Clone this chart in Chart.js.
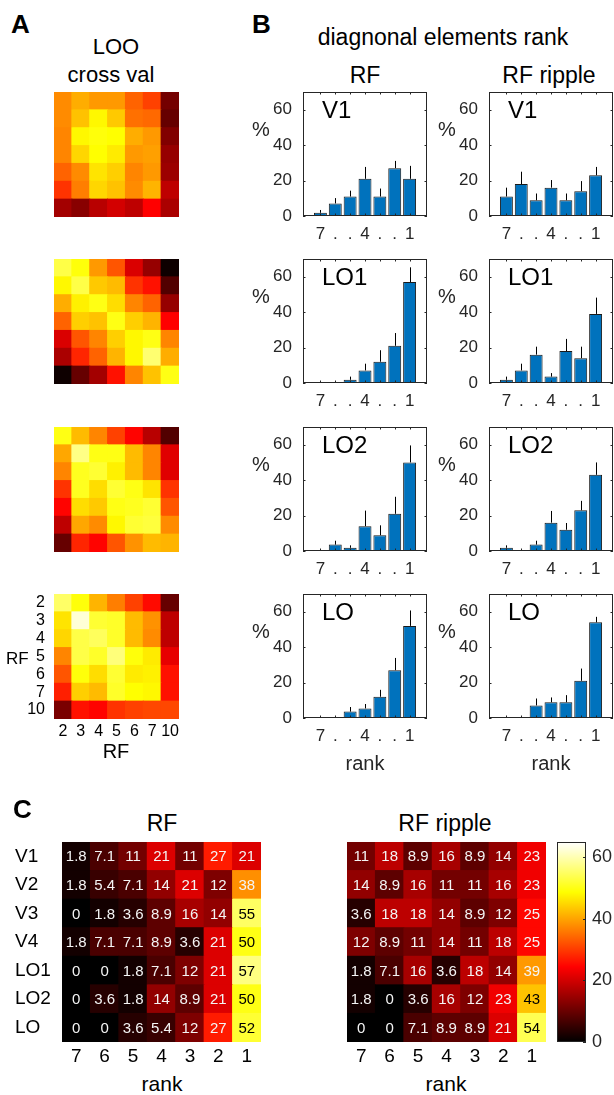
<!DOCTYPE html>
<html>
<head>
<meta charset="utf-8">
<script src="https://cdn.jsdelivr.net/npm/chart.js@4.4.0/dist/chart.umd.min.js"></script>
<style>
    html, body { margin: 0; padding: 0; background: #fff; overflow: hidden; }
    body { position: relative; width: 614px; height: 1095px; font-family: "Liberation Sans", Arial, sans-serif; color: #000; }
    .txt { position: absolute; white-space: nowrap; line-height: 1; }
</style>
</head>
<body>
<script>
(function() {
    'use strict';

    // ---- dados ----
    var rankLabels = ['7', '6', '5', '4', '3', '2', '1'];
    var rankTicks = ['7', '.', '.', '4', '.', '.', '1'];
    var areaLabels = ['V1', 'V2', 'V3', 'V4', 'LO1', 'LO2', 'LO'];
    var rfSizes = ['2', '3', '4', '5', '6', '7', '10'];
    var barTicksY = [0, 20, 40, 60];
    var colorbarTicks = [0, 20, 40, 60];
    var cMax = 65;

    // % por area (linhas) e rank 7..1 (colunas)
    var rfPct = [
        [1.8, 7.1, 11, 21, 11, 27, 21],
        [1.8, 5.4, 7.1, 14, 21, 12, 38],
        [0, 1.8, 3.6, 8.9, 16, 14, 55],
        [1.8, 7.1, 7.1, 8.9, 3.6, 21, 50],
        [0, 0, 1.8, 7.1, 12, 21, 57],
        [0, 3.6, 1.8, 14, 8.9, 21, 50],
        [0, 0, 3.6, 5.4, 12, 27, 52]
    ];
    var ripplePct = [
        [11, 18, 8.9, 16, 8.9, 14, 23],
        [14, 8.9, 16, 11, 11, 16, 23],
        [3.6, 18, 18, 14, 8.9, 12, 25],
        [12, 8.9, 11, 14, 11, 18, 25],
        [1.8, 7.1, 16, 3.6, 18, 14, 39],
        [1.8, 0, 3.6, 16, 12, 23, 43],
        [0, 0, 7.1, 8.9, 8.9, 21, 54]
    ];

    // painel B: areas mostradas (indices em areaLabels) e barras de erro (lado superior)
    var barAreas = [0, 4, 5, 6];
    var rfErr = [
        [1.6, 3.0, 3.3, 6.7, 4.5, 4.1, 7.3],
        [0, 0, 1.8, 3.8, 6.5, 7.2, 8.3],
        [0, 2.2, 1.4, 8.8, 5.6, 9.6, 9.6],
        [0, 0, 2.6, 2.5, 3.9, 6.9, 8.7]
    ];
    var rippleErr = [
        [5.0, 7.0, 3.8, 4.3, 3.8, 5.7, 4.7],
        [1.8, 3.8, 4.5, 2.0, 6.9, 6.5, 9.2],
        [1.4, 0, 2.2, 6.6, 3.8, 5.3, 7.0],
        [0, 0, 3.9, 2.7, 4.0, 6.9, 3.1]
    ];

    // painel A: matrizes LOO (normalizadas 0..1 no mapa 'hot')
    var loo1 = [
        [0.58, 0.63, 0.60, 0.60, 0.52, 0.47, 0.17],
        [0.58, 0.66, 0.74, 0.67, 0.54, 0.53, 0.15],
        [0.57, 0.74, 0.76, 0.75, 0.63, 0.60, 0.19],
        [0.57, 0.69, 0.75, 0.72, 0.60, 0.61, 0.22],
        [0.52, 0.58, 0.71, 0.68, 0.57, 0.60, 0.23],
        [0.45, 0.56, 0.69, 0.66, 0.58, 0.64, 0.28],
        [0.24, 0.20, 0.27, 0.31, 0.28, 0.375, 0.25]
    ];
    var loo2 = [
        [0.82, 0.76, 0.60, 0.50, 0.32, 0.22, 0.02],
        [0.74, 0.82, 0.67, 0.65, 0.45, 0.40, 0.12],
        [0.63, 0.73, 0.77, 0.70, 0.57, 0.52, 0.22],
        [0.52, 0.68, 0.66, 0.77, 0.68, 0.64, 0.375],
        [0.32, 0.50, 0.57, 0.68, 0.74, 0.77, 0.57],
        [0.25, 0.43, 0.52, 0.64, 0.74, 0.86, 0.63],
        [0.02, 0.15, 0.24, 0.40, 0.57, 0.66, 0.77]
    ];
    var loo3 = [
        [0.77, 0.65, 0.57, 0.47, 0.38, 0.27, 0.12],
        [0.62, 0.88, 0.77, 0.77, 0.65, 0.57, 0.33],
        [0.57, 0.78, 0.80, 0.73, 0.65, 0.57, 0.33],
        [0.45, 0.78, 0.70, 0.80, 0.77, 0.71, 0.45],
        [0.38, 0.70, 0.67, 0.77, 0.78, 0.80, 0.50],
        [0.28, 0.62, 0.58, 0.74, 0.80, 0.81, 0.58],
        [0.15, 0.43, 0.38, 0.50, 0.59, 0.65, 0.64]
    ];
    var loo4 = [
        [0.85, 0.76, 0.64, 0.56, 0.47, 0.39, 0.15],
        [0.71, 0.96, 0.80, 0.79, 0.65, 0.59, 0.28],
        [0.69, 0.82, 0.84, 0.79, 0.65, 0.58, 0.28],
        [0.57, 0.82, 0.79, 0.87, 0.76, 0.72, 0.34],
        [0.50, 0.76, 0.70, 0.80, 0.72, 0.73, 0.40],
        [0.42, 0.68, 0.65, 0.79, 0.75, 0.74, 0.40],
        [0.18, 0.40, 0.38, 0.45, 0.47, 0.48, 0.48]
    ];

    var FONT = '"Liberation Sans", Arial, sans-serif';
    Chart.defaults.font.family = FONT;
    Chart.defaults.color = '#262626';

    /**
     * Mapa de cores 'hot' (preto -> vermelho -> amarelo -> branco)
     */
    function hot(t) {
        t = Math.max(0, Math.min(1, t));
        var r = Math.min(1, t / 0.375);
        var g = Math.max(0, Math.min(1, (t - 0.375) / 0.375));
        var b = Math.max(0, (t - 0.75) / 0.25);
        return 'rgb(' + Math.round(r * 255) + ',' + Math.round(g * 255) + ',' + Math.round(b * 255) + ')';
    }

    function addText(str, x, baseline, size, opts) {
        opts = opts || {};
        var d = document.createElement('div');
        d.className = 'txt';
        d.textContent = str;
        d.style.fontSize = size + 'px';
        d.style.top = (baseline - 0.8465 * size) + 'px';
        d.style.left = x + 'px';
        if (opts.bold) d.style.fontWeight = 'bold';
        if (opts.center) d.style.transform = 'translateX(-50%)';
        if (opts.color) d.style.color = opts.color;
        document.body.appendChild(d);
    }

    function placeCanvas(left, top, width, height) {
        var c = document.createElement('canvas');
        c.width = width;
        c.height = height;
        c.style.position = 'absolute';
        c.style.left = left + 'px';
        c.style.top = top + 'px';
        c.style.width = width + 'px';
        c.style.height = height + 'px';
        document.body.appendChild(c);
        return c;
    }

    // tamanho fixo do eixo, sem o padding extra dos rotulos das pontas
    function fixSize(prop, size) {
        return function(s) {
            s[prop] = size;
            s.paddingTop = 0;
            s.paddingBottom = 0;
            s.paddingLeft = 0;
            s.paddingRight = 0;
        };
    }

    // caixa dos eixos com ticks para dentro (estilo MATLAB)
    Chart.register({
        id: 'axesBox',
        afterDatasetsDraw: function(chart, args, opts) {
            if (!opts.on) return;
            var a = chart.chartArea;
            var ctx = chart.ctx;
            var len = opts.len || 2.5;
            ctx.save();
            ctx.strokeStyle = '#262626';
            ctx.lineWidth = 1;
            ctx.beginPath();
            if (opts.xTicks) {
                chart.scales.x.ticks.forEach(function(t) {
                    var px = Math.round(chart.scales.x.getPixelForValue(t.value)) + 0.5;
                    ctx.moveTo(px, a.bottom); ctx.lineTo(px, a.bottom - len);
                    ctx.moveTo(px, a.top); ctx.lineTo(px, a.top + len);
                });
            }
            chart.scales.y.ticks.forEach(function(t) {
                var py = Math.round(chart.scales.y.getPixelForValue(t.value)) + 0.5;
                if (opts.yLeft) { ctx.moveTo(a.left, py); ctx.lineTo(a.left + len, py); }
                if (opts.yRight) { ctx.moveTo(a.right, py); ctx.lineTo(a.right - len, py); }
            });
            ctx.stroke();
            ctx.strokeRect(Math.round(a.left) + 0.5, Math.round(a.top) + 0.5,
                Math.round(a.right - a.left) - 1, Math.round(a.bottom - a.top) - 1);
            ctx.restore();
        }
    });

    // barras de erro (somente para cima)
    Chart.register({
        id: 'errBars',
        afterDatasetsDraw: function(chart) {
            var ctx = chart.ctx;
            var yScale = chart.scales.y;
            chart.data.datasets.forEach(function(ds, i) {
                if (!ds.errUp) return;
                var meta = chart.getDatasetMeta(i);
                ctx.save();
                ctx.strokeStyle = '#000';
                ctx.lineWidth = 1;
                ctx.beginPath();
                meta.data.forEach(function(el, j) {
                    var e = ds.errUp[j];
                    if (!e) return;
                    var v = ds.data[j].y;
                    var px = Math.round(el.x) + 0.5;
                    ctx.moveTo(px, yScale.getPixelForValue(v));
                    ctx.lineTo(px, yScale.getPixelForValue(v + e));
                });
                ctx.stroke();
                ctx.restore();
            });
        }
    });

    // valores dentro das celulas
    Chart.register({
        id: 'cellText',
        afterDatasetsDraw: function(chart, args, opts) {
            if (!opts.on) return;
            var ctx = chart.ctx;
            ctx.save();
            ctx.font = (opts.size || 15) + 'px ' + FONT;
            ctx.textAlign = 'center';
            ctx.textBaseline = 'middle';
            chart.data.datasets.forEach(function(ds, i) {
                var meta = chart.getDatasetMeta(i);
                meta.data.forEach(function(el, j) {
                    var v = ds.cellValues[j];
                    ctx.fillStyle = v >= 40 ? '#000' : '#f4f4f4';
                    ctx.fillText(String(v), el.x, (el.y + el.base) / 2 + 1);
                });
            });
            ctx.restore();
        }
    });

    /**
     * Mapa de calor 7x7 como barras empilhadas
     */
    function drawHeatmap(o) {
        var padL = o.yLabels ? o.axisW : 0;
        var padB = o.xLabels ? o.axisH : 0;
        var padT = o.padTop || 0;
        var padR = o.padRight || 0;
        var canvas = placeCanvas(o.left - padL, o.top - padT, padL + o.w + padR, padT + o.h + padB);
        var sets = [];
        for (var r = o.matrix.length - 1; r >= 0; r--) {
            sets.push({
                data: o.matrix[r].map(function() { return 1; }),
                backgroundColor: o.matrix[r].map(o.colorFn),
                cellValues: o.matrix[r],
                borderWidth: 0,
                barPercentage: 1,
                categoryPercentage: 1,
                inflateAmount: 0.5
            });
        }
        var yLabels = o.yLabels;
        new Chart(canvas, {
            type: 'bar',
            data: { labels: o.xLabels || rfSizes, datasets: sets },
            options: {
                responsive: false,
                animation: false,
                layout: { padding: { top: padT, right: padR, left: 0, bottom: 0 } },
                plugins: {
                    legend: { display: false },
                    tooltip: { enabled: false },
                    cellText: { on: !!o.showText, size: 15 }
                },
                scales: {
                    x: {
                        stacked: true,
                        display: !!o.xLabels,
                        grid: { display: false, drawTicks: false },
                        border: { display: false },
                        ticks: { font: { size: o.xFont }, padding: o.xPad, maxRotation: 0, autoSkip: false, color: '#000' },
                        afterFit: fixSize('height', padB)
                    },
                    y: {
                        stacked: true,
                        min: 0,
                        max: 7,
                        display: !!yLabels,
                        grid: { display: false, drawTicks: false },
                        border: { display: false },
                        afterBuildTicks: function(s) {
                            s.ticks = [0.5, 1.5, 2.5, 3.5, 4.5, 5.5, 6.5].map(function(v) { return { value: v }; });
                        },
                        ticks: {
                            font: { size: o.yFont },
                            padding: o.yPad,
                            crossAlign: o.yAlign || 'near',
                            autoSkip: false,
                            color: '#000',
                            callback: function(v) { return yLabels ? yLabels[6 - Math.floor(v)] : ''; }
                        },
                        afterFit: fixSize('width', padL)
                    }
                }
            }
        });
    }

    /**
     * Grafico de barras com erro (painel B)
     */
    function drawBars(left, top, vals, errs) {
        var canvas = placeCanvas(left - 50, top - 10, 175, 164);
        new Chart(canvas, {
            type: 'bar',
            data: {
                datasets: [{
                    data: vals.map(function(v, i) { return { x: i + 1, y: v }; }),
                    errUp: errs,
                    backgroundColor: '#0072BD',
                    borderColor: '#1a1a1a',
                    borderWidth: 1,
                    borderSkipped: false,
                    barPercentage: 0.87,
                    categoryPercentage: 1,
                    inflateAmount: 0
                }]
            },
            options: {
                responsive: false,
                animation: false,
                layout: { padding: { top: 10, right: 1, left: 0, bottom: 0 } },
                plugins: {
                    legend: { display: false },
                    tooltip: { enabled: false },
                    axesBox: { on: true, xTicks: true, yLeft: true, yRight: true }
                },
                scales: {
                    x: {
                        type: 'linear',
                        min: -0.17,
                        max: 8.17,
                        offset: false,
                        grid: { display: false, drawTicks: false, offset: false },
                        border: { display: false },
                        afterBuildTicks: function(s) {
                            s.ticks = rankTicks.map(function(t, i) { return { value: i + 1 }; });
                        },
                        ticks: {
                            font: { size: 17 },
                            padding: 8,
                            maxRotation: 0,
                            autoSkip: false,
                            callback: function(v) { return rankTicks[v - 1]; }
                        },
                        afterFit: fixSize('height', 30)
                    },
                    y: {
                        min: 0,
                        max: 70,
                        grid: { display: false, drawTicks: false },
                        border: { display: false },
                        afterBuildTicks: function(s) {
                            s.ticks = barTicksY.map(function(v) { return { value: v }; });
                        },
                        ticks: { font: { size: 17 }, padding: 11 },
                        afterFit: fixSize('width', 50)
                    }
                }
            }
        });
    }

    function drawColorbar(left, top, w, h) {
        var canvas = placeCanvas(left - 2, top - 10, 2 + w + 28, 10 + h + 10);
        new Chart(canvas, {
            type: 'bar',
            data: {
                labels: ['cb'],
                datasets: [{
                    data: [cMax],
                    borderWidth: 0,
                    barPercentage: 1,
                    categoryPercentage: 1,
                    backgroundColor: function(c) {
                        var a = c.chart.chartArea;
                        if (!a) return '#000';
                        var g = c.chart.ctx.createLinearGradient(0, a.bottom, 0, a.top);
                        [0, 0.375, 0.75, 1].forEach(function(s) { g.addColorStop(s, hot(s)); });
                        return g;
                    }
                }]
            },
            options: {
                responsive: false,
                animation: false,
                layout: { padding: { top: 10, right: 0, left: 2, bottom: 10 } },
                plugins: {
                    legend: { display: false },
                    tooltip: { enabled: false },
                    axesBox: { on: true, xTicks: false, yLeft: false, yRight: true, len: 3 }
                },
                scales: {
                    x: { display: false },
                    y: {
                        position: 'right',
                        min: 0,
                        max: cMax,
                        grid: { display: false, drawTicks: false },
                        border: { display: false },
                        afterBuildTicks: function(s) {
                            s.ticks = colorbarTicks.map(function(v) { return { value: v }; });
                        },
                        ticks: { font: { size: 18 }, padding: 6 },
                        afterFit: fixSize('width', 28)
                    }
                }
            }
        });
    }

    // ---- painel A ----
    addText('A', 11, 33, 26, { bold: true });
    addText('LOO', 116, 55, 22, { center: true });
    addText('cross val', 111, 83, 22, { center: true });
    var looMats = [loo1, loo2, loo3, loo4];
    var rowTops = [92, 259, 427, 594];
    looMats.forEach(function(m, k) {
        var last = k === looMats.length - 1;
        drawHeatmap({
            left: 54, top: rowTops[k], w: 125, h: 125,
            matrix: m, colorFn: hot,
            xLabels: last ? rfSizes : null, axisH: 26, xFont: 16, xPad: 3,
            yLabels: last ? rfSizes : null, axisW: 54, yFont: 16, yPad: 9,
            padRight: 5
        });
    });
    addText('RF', 6, 664, 17);
    addText('RF', 116, 758, 20, { center: true });

    // ---- painel B ----
    addText('B', 252, 33, 26, { bold: true });
    addText('diagnonal elements rank', 443, 45, 23, { center: true });
    var colLefts = [303, 489];
    addText('RF', 365, 83, 23, { center: true });
    addText('RF ripple', 549, 83, 23, { center: true });
    barAreas.forEach(function(a, k) {
        var top = rowTops[k];
        drawBars(colLefts[0], top, rfPct[a], rfErr[k]);
        drawBars(colLefts[1], top, ripplePct[a], rippleErr[k]);
        colLefts.forEach(function(l) {
            addText('%', l - 51, top + 44, 20, { color: '#262626' });
            addText(areaLabels[a], l + 19, top + 26, 24);
        });
    });
    addText('rank', 365, 770, 20, { center: true, color: '#262626' });
    addText('rank', 551, 770, 20, { center: true, color: '#262626' });

    // ---- painel C ----
    addText('C', 13, 818, 26, { bold: true });
    addText('RF', 162, 831, 23, { center: true });
    addText('RF ripple', 445, 831, 23, { center: true });
    function pctColor(v) { return hot(v / cMax); }
    drawHeatmap({
        left: 62, top: 842, w: 199, h: 200,
        matrix: rfPct, colorFn: pctColor, showText: true,
        xLabels: rankLabels, axisH: 30, xFont: 19, xPad: 3,
        yLabels: areaLabels, axisW: 47, yFont: 19, yPad: 0, yAlign: 'far',
        padRight: 2
    });
    drawHeatmap({
        left: 347, top: 842, w: 199, h: 200,
        matrix: ripplePct, colorFn: pctColor, showText: true,
        xLabels: rankLabels, axisH: 30, xFont: 19, xPad: 3,
        padRight: 2
    });
    drawColorbar(557, 842, 29, 200);
    addText('rank', 162, 1091, 21, { center: true });
    addText('rank', 446, 1091, 21, { center: true });
})();
</script>
</body>
</html>
